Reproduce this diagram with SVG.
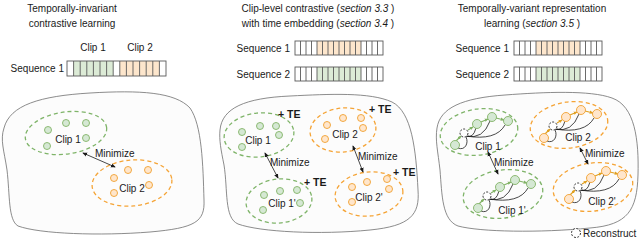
<svg xmlns="http://www.w3.org/2000/svg" width="640" height="241" viewBox="0 0 640 241">
<style>
text{font-family:"Liberation Sans",Arial,sans-serif;font-size:10px;fill:#1a1a1a}
.c{text-anchor:middle}
.e{text-anchor:end}
.it{font-style:italic}
.te{font-weight:bold;font-size:10.5px}
.blob{fill:#fcfcfc;stroke:#6e6e6e;stroke-width:0.8}
.bar{fill:none;stroke:#5a5a5a;stroke-width:0.9}
.gc{fill:#dcebd6;stroke:none}
.oc{fill:#fde6cc;stroke:none}
.ge{fill:none;stroke:#7fb469;stroke-width:1.3;stroke-dasharray:4 3}
.oe{fill:none;stroke:#f5a436;stroke-width:1.3;stroke-dasharray:4 3}
.gd{fill:#d5e8d4;stroke:#82b366;stroke-width:0.9}
.od{fill:#ffe6cc;stroke:#f0a030;stroke-width:0.9}
.arr{fill:none;stroke:#1a1a1a;stroke-width:0.8;marker-start:url(#ah);marker-end:url(#ah)}
.bk{fill:none;stroke:#1a1a1a;stroke-width:0.8}
.gl{fill:none;stroke:#82b366;stroke-width:1.2;marker-end:url(#ahg)}
.ol{fill:none;stroke:#e0a020;stroke-width:1.2;marker-end:url(#aho)}
.rc{fill:#fff;stroke:#1a1a1a;stroke-width:0.9;stroke-dasharray:2 1.5}
</style>
<defs>
<marker id="ah" viewBox="0 0 6 6" refX="5" refY="3" markerWidth="5" markerHeight="5" orient="auto-start-reverse" markerUnits="userSpaceOnUse"><path d="M0,0.5 L6,3 L0,5.5 Z" fill="#1a1a1a"/></marker>
<marker id="ahg" viewBox="0 0 6 6" refX="5" refY="3" markerWidth="4" markerHeight="4" orient="auto" markerUnits="userSpaceOnUse"><path d="M0,0.5 L6,3 L0,5.5 Z" fill="#82b366"/></marker>
<marker id="aho" viewBox="0 0 6 6" refX="5" refY="3" markerWidth="4" markerHeight="4" orient="auto" markerUnits="userSpaceOnUse"><path d="M0,0.5 L6,3 L0,5.5 Z" fill="#e0a020"/></marker>
<path id="grid16" d="M5.5,0v14M11,0v14M16.5,0v14M22,0v14M27.5,0v14M33,0v14M38.5,0v14M44,0v14M49.5,0v14M55,0v14M60.5,0v14M66,0v14M71.5,0v14M77,0v14M82.5,0v14"/>
<path id="grid15" d="M6.6,0v15M13.2,0v15M19.8,0v15M26.4,0v15M33,0v15M39.6,0v15M46.2,0v15M52.8,0v15M59.4,0v15M66,0v15M72.6,0v15M79.2,0v15M85.8,0v15M92.4,0v15"/>
</defs>

<!-- Panel 1 -->
<g id="panel1-header">
<text class="c" x="72" y="12">Temporally-invariant</text>
<text class="c" x="72" y="27">contrastive learning</text>
<text class="c" x="93" y="51">Clip 1</text>
<text class="c" x="140" y="51">Clip 2</text>
<text class="e" x="64" y="72">Sequence 1</text>
<rect class="gc" x="73.6" y="61" width="39.6" height="15"/>
<rect class="oc" x="119.8" y="61" width="39.6" height="15"/>
<rect class="bar" x="67" y="61" width="99" height="15"/>
<use href="#grid15" x="67" y="61" class="bar"/>
</g>
<path id="blob1" class="blob" d="M4,128 C10,105 40,96 90,93 C140,90 175,92 190,108 C202,125 203,165 204,200 C205,222 195,228 150,232 C100,236 40,234 18,226 C8,220 10,195 7,170 C4,150 0,140 4,128 Z"/>
<g id="p1-clip1">
<ellipse class="ge" cx="66" cy="133" rx="41" ry="21" transform="rotate(-8 66 133)"/>
<circle class="gd" cx="48" cy="130" r="3.5"/><circle class="gd" cx="66" cy="123" r="3.5"/><circle class="gd" cx="86" cy="123" r="3.5"/><circle class="gd" cx="86" cy="138" r="3.5"/><circle class="gd" cx="47" cy="146" r="3.5"/>
<text class="c" x="68" y="143">Clip 1</text>
</g>
<g id="p1-clip2">
<ellipse class="oe" cx="132" cy="183" rx="40" ry="23" transform="rotate(-5 132 183)"/>
<circle class="od" cx="114" cy="178" r="3.5"/><circle class="od" cx="128" cy="170" r="3.5"/><circle class="od" cx="148" cy="170" r="3.5"/><circle class="od" cx="149" cy="185" r="3.5"/><circle class="od" cx="114" cy="193" r="3.5"/>
<text class="c" x="132" y="192">Clip 2</text>
</g>

<!-- Panel 2 -->
<g id="panel2-header">
<text class="c" x="318" y="12">Clip-level contrastive (<tspan class="it">section 3.3</tspan> )</text>
<text class="c" x="318" y="27">with time embedding (<tspan class="it">section 3.4</tspan> )</text>
<text class="e" x="290" y="52">Sequence 1</text>
<text class="e" x="290" y="78">Sequence 2</text>
<rect class="oc" x="317" y="41" width="44" height="14"/>
<rect class="bar" x="295" y="41" width="88" height="14"/>
<use href="#grid16" x="295" y="41" class="bar"/>
<rect class="gc" x="317" y="67" width="44" height="14"/>
<rect class="bar" x="295" y="67" width="88" height="14"/>
<use href="#grid16" x="295" y="67" class="bar"/>
</g>
<path id="blob2" class="blob" d="M220,130 C222,108 245,98 290,96 C330,94 370,92 392,102 C412,112 416,150 418,190 C420,215 410,226 370,230 C320,235 260,232 238,224 C224,218 228,190 224,165 C221,150 219,140 220,130 Z"/>
<g id="p2-clip1">
<ellipse class="ge" cx="259" cy="135" rx="35" ry="22" transform="rotate(-6 259 135)"/>
<circle class="gd" cx="242" cy="132" r="3.5"/><circle class="gd" cx="260" cy="126" r="3.5"/><circle class="gd" cx="276" cy="126" r="3.5"/><circle class="gd" cx="279" cy="135" r="3.5"/><circle class="gd" cx="242" cy="147" r="3.5"/>
<text class="c" x="258" y="144">Clip 1</text>
<text class="te" x="278" y="118">+ TE</text>
</g>
<g id="p2-clip2">
<ellipse class="oe" cx="343" cy="130" rx="33" ry="22" transform="rotate(-6 343 130)"/>
<circle class="od" cx="327" cy="125" r="3.5"/><circle class="od" cx="343" cy="118" r="3.5"/><circle class="od" cx="361" cy="118" r="3.5"/><circle class="od" cx="363" cy="128" r="3.5"/><circle class="od" cx="325" cy="139" r="3.5"/>
<text class="c" x="345" y="138">Clip 2</text>
<text class="te" x="369" y="113">+ TE</text>
</g>
<g id="p2-clip1p">
<ellipse class="ge" cx="279" cy="201" rx="33" ry="22" transform="rotate(-6 279 201)"/>
<circle class="gd" cx="264" cy="195" r="3.5"/><circle class="gd" cx="280" cy="191" r="3.5"/><circle class="gd" cx="297" cy="190" r="3.5"/><circle class="gd" cx="300" cy="203" r="3.5"/><circle class="gd" cx="263" cy="210" r="3.5"/>
<text class="c" x="282" y="207">Clip 1'</text>
<text class="te" x="304" y="186">+ TE</text>
</g>
<g id="p2-clip2p">
<ellipse class="oe" cx="369" cy="194" rx="34" ry="22" transform="rotate(-6 369 194)"/>
<circle class="od" cx="352" cy="187" r="3.5"/><circle class="od" cx="367" cy="182" r="3.5"/><circle class="od" cx="387" cy="179" r="3.5"/><circle class="od" cx="389" cy="189" r="3.5"/><circle class="od" cx="352" cy="202" r="3.5"/>
<text class="c" x="369" y="201">Clip 2'</text>
<text class="te" x="393" y="176">+ TE</text>
</g>

<!-- Panel 3 -->
<g id="panel3-header">
<text class="c" x="532" y="12">Temporally-variant representation</text>
<text class="c" x="532" y="27">learning (<tspan class="it">section 3.5</tspan> )</text>
<text class="e" x="509" y="52">Sequence 1</text>
<text class="e" x="509" y="78">Sequence 2</text>
<rect class="oc" x="536" y="41" width="44" height="14"/>
<rect class="bar" x="514" y="41" width="88" height="14"/>
<use href="#grid16" x="514" y="41" class="bar"/>
<rect class="gc" x="536" y="67" width="44" height="14"/>
<rect class="bar" x="514" y="67" width="88" height="14"/>
<use href="#grid16" x="514" y="67" class="bar"/>
</g>
<path id="blob3" class="blob" d="M437,128 C440,108 462,98 505,95 C545,92 590,90 612,98 C635,106 639,140 638,175 C637,210 628,225 590,228 C540,233 480,232 458,226 C442,220 442,195 440,170 C438,152 435,140 437,128 Z"/>
<g id="p3-clip1">
<ellipse class="ge" cx="479" cy="132" rx="39" ry="23" transform="rotate(-8 479 132)"/>
<g transform="translate(464,133)">
<path class="bk" d="M2,3 Q9,6 12,-5 M2,3 Q19,7 26,-12 M2,3 Q32,8 41,-8 M-6,15 C1,18 5,10 2,4"/>
<path class="gl" d="M-8,8 L-3,3"/><path class="gl" d="M4,-3 L9,-6"/><path class="gl" d="M17,-11 L24,-14"/><path class="gl" d="M32,-15 L40,-13"/>
<circle class="gd" cx="-9" cy="12" r="4.5"/><circle class="rc" cx="0" cy="0" r="4"/><circle class="gd" cx="13" cy="-9" r="4.5"/><circle class="gd" cx="28" cy="-16" r="4.5"/><circle class="gd" cx="44" cy="-12" r="4.5"/>
</g>
<text class="c" x="488" y="150">Clip 1</text>
</g>
<g id="p3-clip2">
<ellipse class="oe" cx="569" cy="125" rx="39" ry="23" transform="rotate(-8 569 125)"/>
<g transform="translate(553,126)">
<path class="bk" d="M2,3 Q9,6 12,-5 M2,3 Q19,7 26,-12 M2,3 Q32,8 41,-8 M-6,15 C1,18 5,10 2,4"/>
<path class="ol" d="M-8,8 L-3,3"/><path class="ol" d="M4,-3 L9,-6"/><path class="ol" d="M17,-11 L24,-14"/><path class="ol" d="M32,-15 L40,-13"/>
<circle class="od" cx="-9" cy="12" r="4.5"/><circle class="rc" cx="0" cy="0" r="4"/><circle class="od" cx="13" cy="-9" r="4.5"/><circle class="od" cx="28" cy="-16" r="4.5"/><circle class="od" cx="44" cy="-12" r="4.5"/>
</g>
<text class="c" x="578" y="141">Clip 2</text>
</g>
<g id="p3-clip1p">
<ellipse class="ge" cx="503" cy="194" rx="40" ry="24" transform="rotate(-8 503 194)"/>
<g transform="translate(487,196)">
<path class="bk" d="M2,3 Q9,6 12,-5 M2,3 Q19,7 26,-12 M2,3 Q32,8 41,-8 M-6,15 C1,18 5,10 2,4"/>
<path class="gl" d="M-8,8 L-3,3"/><path class="gl" d="M4,-3 L9,-6"/><path class="gl" d="M17,-11 L24,-14"/><path class="gl" d="M32,-15 L40,-13"/>
<circle class="gd" cx="-9" cy="12" r="4.5"/><circle class="rc" cx="0" cy="0" r="4"/><circle class="gd" cx="13" cy="-9" r="4.5"/><circle class="gd" cx="28" cy="-16" r="4.5"/><circle class="gd" cx="44" cy="-12" r="4.5"/>
</g>
<text class="c" x="512" y="214">Clip 1'</text>
</g>
<g id="p3-clip2p">
<ellipse class="oe" cx="593" cy="187" rx="40" ry="24" transform="rotate(-8 593 187)"/>
<g transform="translate(578,187)">
<path class="bk" d="M2,3 Q9,6 12,-5 M2,3 Q19,7 26,-12 M2,3 Q32,8 41,-8 M-6,15 C1,18 5,10 2,4"/>
<path class="ol" d="M-8,8 L-3,3"/><path class="ol" d="M4,-3 L9,-6"/><path class="ol" d="M17,-11 L24,-14"/><path class="ol" d="M32,-15 L40,-13"/>
<circle class="od" cx="-9" cy="12" r="4.5"/><circle class="rc" cx="0" cy="0" r="4"/><circle class="od" cx="13" cy="-9" r="4.5"/><circle class="od" cx="28" cy="-16" r="4.5"/><circle class="od" cx="44" cy="-12" r="4.5"/>
</g>
<text class="c" x="602" y="205">Clip 2'</text>
</g>
<g id="legend">
<circle class="rc" cx="576" cy="233" r="4.5"/>
<text x="583" y="237">Reconstruct</text>
</g>

<!-- Connectors -->
<g id="connectors">
<path class="arr" d="M83,153 L115,167"/>
<text x="95" y="157">Minimize</text>
<path class="arr" d="M265,153 L278,178"/>
<text x="270" y="166">Minimize</text>
<path class="arr" d="M353,146 L363,172"/>
<text x="358" y="160">Minimize</text>
<path class="arr" d="M488,152 L498,174"/>
<text x="494" y="166">Minimize</text>
<path class="arr" d="M580,148 L588,164"/>
<text x="585" y="157">Minimize</text>
</g>
</svg>
